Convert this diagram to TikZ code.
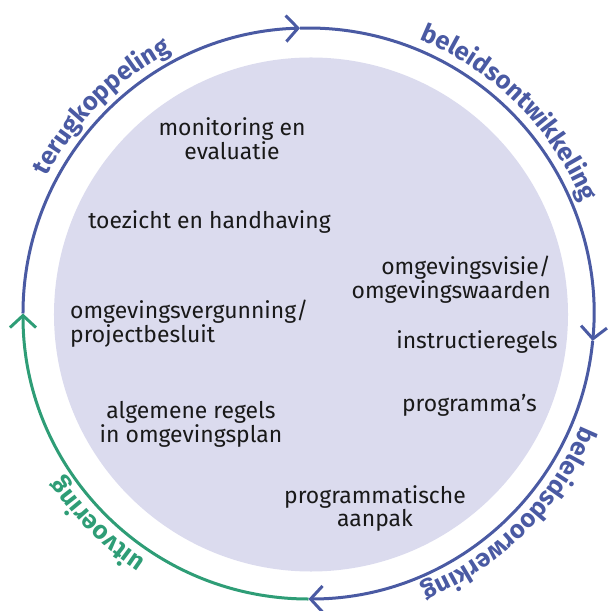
\documentclass[tikz,border=0pt]{standalone}
\usepackage{fontspec}
\setmainfont{Fira Sans}
\usetikzlibrary{arrows.meta,decorations.text}
\definecolor{ringblue}{RGB}{74,90,163}
\definecolor{ringgreen}{RGB}{46,157,118}
\definecolor{fillv}{RGB}{219,219,238}
\definecolor{txt}{RGB}{25,25,25}
\begin{document}
\begin{tikzpicture}[x=1bp,y=1bp,
  ring/.style={line width=3bp},
  tipped/.style={-{Straight Barb[length=12bp,width=26bp]}},
  inner/.style={font=\fontsize{23}{24}\selectfont, text=txt, inner sep=0pt, align=center},
  lbl/.style={decorate,decoration={text along path, text align=center, text={#1}}}
]
\useasboundingbox (-308.5,-297.5) rectangle (299.5,313.5);
\fill[fillv] (2.5,-1) circle[radius=257bp];
% ring
\draw[ring, ringgreen, tipped] (270:285.5bp) arc[start angle=270, end angle=180, radius=285.5bp];
\draw[ring, ringblue, tipped] (180:285.5bp) arc[start angle=180, end angle=91.7, radius=285.5bp];
\draw[ring, ringblue, tipped] (91.7:285.5bp) arc[start angle=91.7, end angle=-5.5, radius=285.5bp];
\draw[ring, ringblue, tipped] (-5.5:285.5bp) arc[start angle=-5.5, end angle=-90, radius=285.5bp];
% curved labels
\path[lbl={|\fontsize{25.5}{25.5}\selectfont\bfseries\color{ringblue}|terugkoppeling}] (180:295.5bp) arc[start angle=180, end angle=90, radius=295.5bp];
\path[lbl={|\fontsize{25.5}{25.5}\selectfont\bfseries\color{ringblue}|beleidsontwikkeling}] (90:295.5bp) arc[start angle=90, end angle=0, radius=295.5bp];
\path[lbl={|\fontsize{25.5}{25.5}\selectfont\bfseries\color{ringblue}|beleidsdoorwerking}] (0:295.5bp) arc[start angle=0, end angle=-90, radius=295.5bp];
\path[lbl={|\fontsize{25.5}{25.5}\selectfont\bfseries\color{ringgreen}|uitvoering}] (270:295.5bp) arc[start angle=270, end angle=180, radius=295.5bp];
% inner texts
\node[inner] (mon) at (-76.5,174.5) {monitoring en\\evaluatie};
\node[inner] (toe) at (-99,91.5) {toezicht en handhaving};
\node[inner, anchor=east, align=right] (vis) at (242.5,33.5) {omgevingsvisie/\\omgevingswaarden};
\node[inner, anchor=west, align=left] (verg) at (-238.5,-10.5) {omgevingsvergunning/\\projectbesluit};
\node[inner] (instr) at (168.5,-28.5) {instructieregels};
\node[inner] (prog) at (161,-91.5) {programma’s};
\node[inner] (alg) at (-117.5,-110.5) {algemene regels\\in omgevingsplan};
\node[inner] (aanp) at (66.5,-195) {programmatische\\aanpak};
\end{tikzpicture}
\end{document}
